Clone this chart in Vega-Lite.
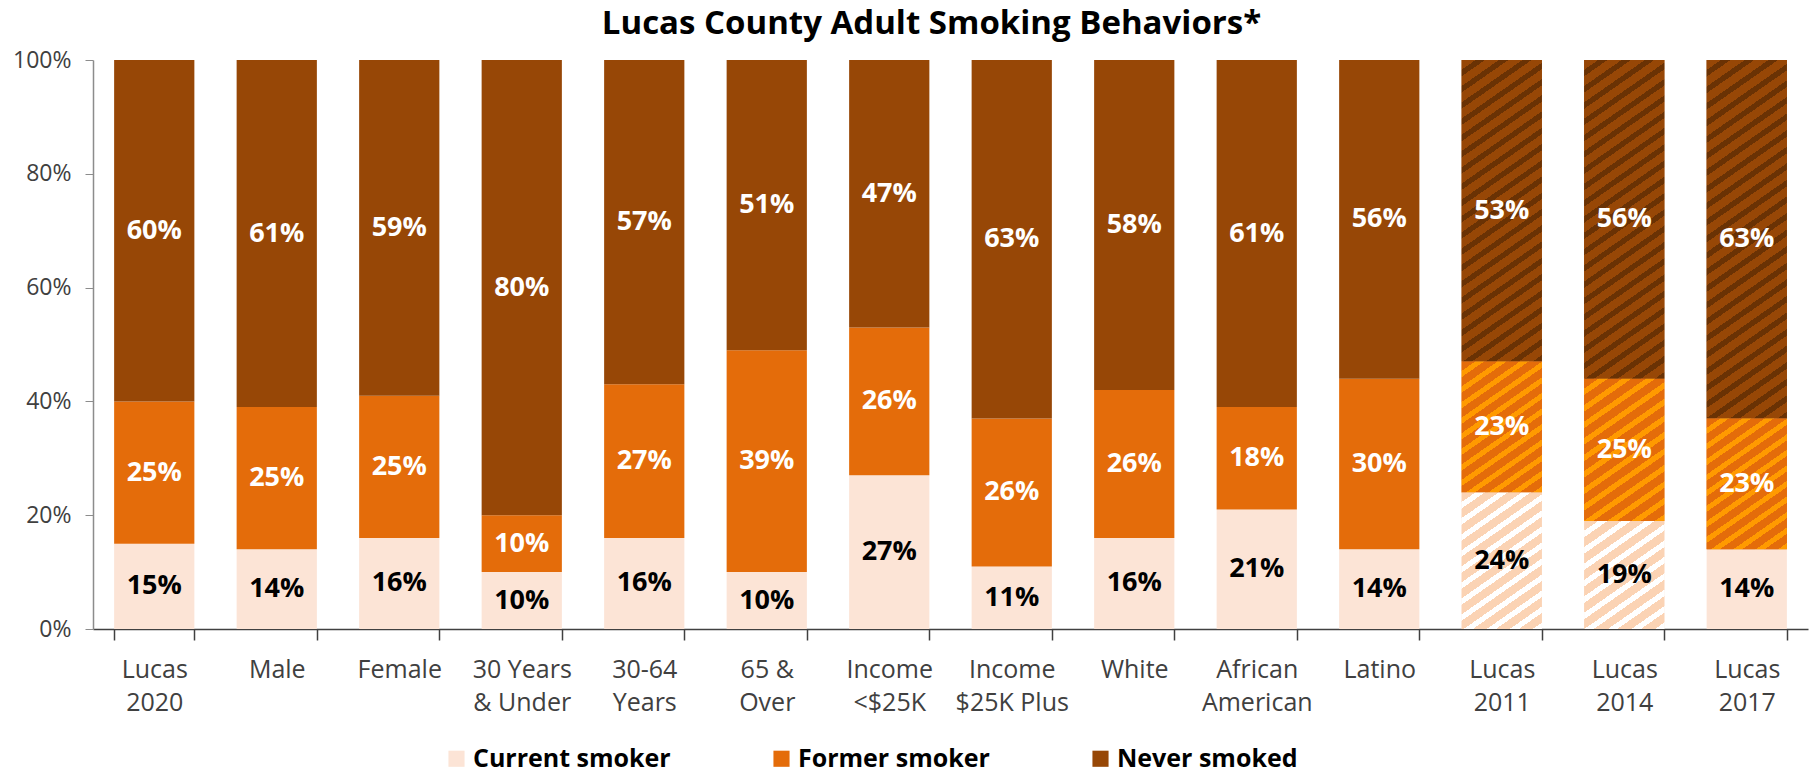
{
"$schema": "https://vega.github.io/schema/vega-lite/v6.json",
"width": 1715, "height": 569,
"autosize": {"type": "none"},
"padding": {"left": 93, "top": 60, "right": 8, "bottom": 144},
"background": "white",
"config": {"view": {"stroke": null}, "font": "Open Sans"},
"title": {"text": "Lucas County Adult Smoking Behaviors*", "fontSize": 33, "fontWeight": "bold", "font": "Open Sans", "color": "#000000", "anchor": "middle", "offset": 8, "dx": -19},
"data": {"values": [
{"group": "Lucas|2020", "behavior": "Current smoker", "pct": 0.15, "order": 1},
{"group": "Lucas|2020", "behavior": "Former smoker", "pct": 0.25, "order": 2},
{"group": "Lucas|2020", "behavior": "Never smoked", "pct": 0.60, "order": 3},
{"group": "Male", "behavior": "Current smoker", "pct": 0.14, "order": 1},
{"group": "Male", "behavior": "Former smoker", "pct": 0.25, "order": 2},
{"group": "Male", "behavior": "Never smoked", "pct": 0.61, "order": 3},
{"group": "Female", "behavior": "Current smoker", "pct": 0.16, "order": 1},
{"group": "Female", "behavior": "Former smoker", "pct": 0.25, "order": 2},
{"group": "Female", "behavior": "Never smoked", "pct": 0.59, "order": 3},
{"group": "30 Years|& Under", "behavior": "Current smoker", "pct": 0.10, "order": 1},
{"group": "30 Years|& Under", "behavior": "Former smoker", "pct": 0.10, "order": 2},
{"group": "30 Years|& Under", "behavior": "Never smoked", "pct": 0.80, "order": 3},
{"group": "30-64|Years", "behavior": "Current smoker", "pct": 0.16, "order": 1},
{"group": "30-64|Years", "behavior": "Former smoker", "pct": 0.27, "order": 2},
{"group": "30-64|Years", "behavior": "Never smoked", "pct": 0.57, "order": 3},
{"group": "65 &|Over", "behavior": "Current smoker", "pct": 0.10, "order": 1},
{"group": "65 &|Over", "behavior": "Former smoker", "pct": 0.39, "order": 2},
{"group": "65 &|Over", "behavior": "Never smoked", "pct": 0.51, "order": 3},
{"group": "Income|<$25K", "behavior": "Current smoker", "pct": 0.27, "order": 1},
{"group": "Income|<$25K", "behavior": "Former smoker", "pct": 0.26, "order": 2},
{"group": "Income|<$25K", "behavior": "Never smoked", "pct": 0.47, "order": 3},
{"group": "Income|$25K Plus", "behavior": "Current smoker", "pct": 0.11, "order": 1},
{"group": "Income|$25K Plus", "behavior": "Former smoker", "pct": 0.26, "order": 2},
{"group": "Income|$25K Plus", "behavior": "Never smoked", "pct": 0.63, "order": 3},
{"group": "White", "behavior": "Current smoker", "pct": 0.16, "order": 1},
{"group": "White", "behavior": "Former smoker", "pct": 0.26, "order": 2},
{"group": "White", "behavior": "Never smoked", "pct": 0.58, "order": 3},
{"group": "African|American", "behavior": "Current smoker", "pct": 0.21, "order": 1},
{"group": "African|American", "behavior": "Former smoker", "pct": 0.18, "order": 2},
{"group": "African|American", "behavior": "Never smoked", "pct": 0.61, "order": 3},
{"group": "Latino", "behavior": "Current smoker", "pct": 0.14, "order": 1},
{"group": "Latino", "behavior": "Former smoker", "pct": 0.30, "order": 2},
{"group": "Latino", "behavior": "Never smoked", "pct": 0.56, "order": 3},
{"group": "Lucas|2011", "behavior": "Current smoker", "pct": 0.24, "order": 1},
{"group": "Lucas|2011", "behavior": "Former smoker", "pct": 0.23, "order": 2},
{"group": "Lucas|2011", "behavior": "Never smoked", "pct": 0.53, "order": 3},
{"group": "Lucas|2014", "behavior": "Current smoker", "pct": 0.19, "order": 1},
{"group": "Lucas|2014", "behavior": "Former smoker", "pct": 0.25, "order": 2},
{"group": "Lucas|2014", "behavior": "Never smoked", "pct": 0.56, "order": 3},
{"group": "Lucas|2017", "behavior": "Current smoker", "pct": 0.14, "order": 1},
{"group": "Lucas|2017", "behavior": "Former smoker", "pct": 0.23, "order": 2},
{"group": "Lucas|2017", "behavior": "Never smoked", "pct": 0.63, "order": 3}
]},
"transform": [
{"stack": "pct", "groupby": ["group"], "sort": [{"field": "order", "order": "ascending"}], "as": ["lo", "hi"]},
{"calculate": "(datum.lo + datum.hi) / 2", "as": "mid"}
],
"encoding": {
"x": {"field": "group", "type": "nominal",
 "scale": {"domain": ["Lucas|2020","Male","Female","30 Years|& Under","30-64|Years","65 &|Over","Income|<$25K","Income|$25K Plus","White","African|American","Latino","Lucas|2011","Lucas|2014","Lucas|2017"], "paddingInner": 0.345, "paddingOuter": 0.1725},
 "axis": {"title": null, "labelAngle": 0, "labelExpr": "isValid(datum.value) ? split(datum.value, '|') : ''", "labelFont": "Open Sans", "labelFontSize": 25, "labelColor": "#404040", "labelLineHeight": 33, "labelPadding": 17, "tickBand": "extent", "tickSize": 11, "tickColor": "#404040", "domainColor": "#404040", "domainWidth": 1.5, "tickWidth": 1.5, "labelLimit": 300}}
},
"layer": [
{"encoding": {
  "y": {"field": "lo", "type": "quantitative", "scale": {"domain": [0, 1], "nice": false}, "axis": {"title": null, "format": ".0%", "values": [0, 0.2, 0.4, 0.6, 0.8, 1], "grid": false, "labelFont": "Open Sans", "labelFontSize": 23, "labelColor": "#404040", "domainColor": "#8C8C8C", "domainWidth": 1.5, "tickColor": "#8C8C8C", "tickSize": 8, "labelPadding": 14}},
  "y2": {"field": "hi"}},
 "layer": [
  {"mark": {"type": "bar"},
   "encoding": {"color": {"field": "behavior", "type": "nominal",
     "scale": {"domain": ["Current smoker", "Former smoker", "Never smoked"], "range": ["#FCE4D6", "#E46C0A", "#974706"]},
     "legend": {"orient": "none", "legendX": 351, "legendY": 686, "direction": "horizontal", "title": null, "symbolType": "square", "symbolSize": 260, "symbolStrokeWidth": 0, "labelFontSize": 25, "labelFontWeight": "bold", "labelFont": "Open Sans", "labelColor": "#000000", "labelOffset": 4, "columnPadding": 98, "labelLimit": 400}}}},
  {"transform": [{"filter": "datum.group === 'Lucas|2011' && datum.order === 3"}],
   "mark": {"type": "bar", "fill": {"gradient": "linear", "x1": 0, "y1": 0, "x2": 0.2124, "y2": 1.146, "stops": [
{"offset":0,"color":"#974706"},{"offset":0.0273,"color":"#974706"},{"offset":0.0273,"color":"#6A3204"},{"offset":0.0455,"color":"#6A3204"},
{"offset":0.0455,"color":"#974706"},{"offset":0.0727,"color":"#974706"},{"offset":0.0727,"color":"#6A3204"},{"offset":0.0909,"color":"#6A3204"},
{"offset":0.0909,"color":"#974706"},{"offset":0.1182,"color":"#974706"},{"offset":0.1182,"color":"#6A3204"},{"offset":0.1364,"color":"#6A3204"},
{"offset":0.1364,"color":"#974706"},{"offset":0.1636,"color":"#974706"},{"offset":0.1636,"color":"#6A3204"},{"offset":0.1818,"color":"#6A3204"},
{"offset":0.1818,"color":"#974706"},{"offset":0.2091,"color":"#974706"},{"offset":0.2091,"color":"#6A3204"},{"offset":0.2273,"color":"#6A3204"},
{"offset":0.2273,"color":"#974706"},{"offset":0.2545,"color":"#974706"},{"offset":0.2545,"color":"#6A3204"},{"offset":0.2727,"color":"#6A3204"},
{"offset":0.2727,"color":"#974706"},{"offset":0.3,"color":"#974706"},{"offset":0.3,"color":"#6A3204"},{"offset":0.3182,"color":"#6A3204"},
{"offset":0.3182,"color":"#974706"},{"offset":0.3455,"color":"#974706"},{"offset":0.3455,"color":"#6A3204"},{"offset":0.3636,"color":"#6A3204"},
{"offset":0.3636,"color":"#974706"},{"offset":0.3909,"color":"#974706"},{"offset":0.3909,"color":"#6A3204"},{"offset":0.4091,"color":"#6A3204"},
{"offset":0.4091,"color":"#974706"},{"offset":0.4364,"color":"#974706"},{"offset":0.4364,"color":"#6A3204"},{"offset":0.4545,"color":"#6A3204"},
{"offset":0.4545,"color":"#974706"},{"offset":0.4818,"color":"#974706"},{"offset":0.4818,"color":"#6A3204"},{"offset":0.5,"color":"#6A3204"},
{"offset":0.5,"color":"#974706"},{"offset":0.5273,"color":"#974706"},{"offset":0.5273,"color":"#6A3204"},{"offset":0.5455,"color":"#6A3204"},
{"offset":0.5455,"color":"#974706"},{"offset":0.5727,"color":"#974706"},{"offset":0.5727,"color":"#6A3204"},{"offset":0.5909,"color":"#6A3204"},
{"offset":0.5909,"color":"#974706"},{"offset":0.6182,"color":"#974706"},{"offset":0.6182,"color":"#6A3204"},{"offset":0.6364,"color":"#6A3204"},
{"offset":0.6364,"color":"#974706"},{"offset":0.6636,"color":"#974706"},{"offset":0.6636,"color":"#6A3204"},{"offset":0.6818,"color":"#6A3204"},
{"offset":0.6818,"color":"#974706"},{"offset":0.7091,"color":"#974706"},{"offset":0.7091,"color":"#6A3204"},{"offset":0.7273,"color":"#6A3204"},
{"offset":0.7273,"color":"#974706"},{"offset":0.7545,"color":"#974706"},{"offset":0.7545,"color":"#6A3204"},{"offset":0.7727,"color":"#6A3204"},
{"offset":0.7727,"color":"#974706"},{"offset":0.8,"color":"#974706"},{"offset":0.8,"color":"#6A3204"},{"offset":0.8182,"color":"#6A3204"},
{"offset":0.8182,"color":"#974706"},{"offset":0.8455,"color":"#974706"},{"offset":0.8455,"color":"#6A3204"},{"offset":0.8636,"color":"#6A3204"},
{"offset":0.8636,"color":"#974706"},{"offset":0.8909,"color":"#974706"},{"offset":0.8909,"color":"#6A3204"},{"offset":0.9091,"color":"#6A3204"},
{"offset":0.9091,"color":"#974706"},{"offset":0.9364,"color":"#974706"},{"offset":0.9364,"color":"#6A3204"},{"offset":0.9545,"color":"#6A3204"},
{"offset":0.9545,"color":"#974706"},{"offset":0.9818,"color":"#974706"},{"offset":0.9818,"color":"#6A3204"},{"offset":1,"color":"#6A3204"}
]}}},
  {"transform": [{"filter": "datum.group === 'Lucas|2011' && datum.order === 2"}],
   "mark": {"type": "bar", "fill": {"gradient": "linear", "x1": 0, "y1": 0, "x2": 0.5155, "y2": 1.2069, "stops": [
{"offset":0,"color":"#E46C0A"},{"offset":0.05,"color":"#E46C0A"},{"offset":0.05,"color":"#FF9A00"},{"offset":0.0833,"color":"#FF9A00"},
{"offset":0.0833,"color":"#E46C0A"},{"offset":0.1333,"color":"#E46C0A"},{"offset":0.1333,"color":"#FF9A00"},{"offset":0.1667,"color":"#FF9A00"},
{"offset":0.1667,"color":"#E46C0A"},{"offset":0.2167,"color":"#E46C0A"},{"offset":0.2167,"color":"#FF9A00"},{"offset":0.25,"color":"#FF9A00"},
{"offset":0.25,"color":"#E46C0A"},{"offset":0.3,"color":"#E46C0A"},{"offset":0.3,"color":"#FF9A00"},{"offset":0.3333,"color":"#FF9A00"},
{"offset":0.3333,"color":"#E46C0A"},{"offset":0.3833,"color":"#E46C0A"},{"offset":0.3833,"color":"#FF9A00"},{"offset":0.4167,"color":"#FF9A00"},
{"offset":0.4167,"color":"#E46C0A"},{"offset":0.4667,"color":"#E46C0A"},{"offset":0.4667,"color":"#FF9A00"},{"offset":0.5,"color":"#FF9A00"},
{"offset":0.5,"color":"#E46C0A"},{"offset":0.55,"color":"#E46C0A"},{"offset":0.55,"color":"#FF9A00"},{"offset":0.5833,"color":"#FF9A00"},
{"offset":0.5833,"color":"#E46C0A"},{"offset":0.6333,"color":"#E46C0A"},{"offset":0.6333,"color":"#FF9A00"},{"offset":0.6667,"color":"#FF9A00"},
{"offset":0.6667,"color":"#E46C0A"},{"offset":0.7167,"color":"#E46C0A"},{"offset":0.7167,"color":"#FF9A00"},{"offset":0.75,"color":"#FF9A00"},
{"offset":0.75,"color":"#E46C0A"},{"offset":0.8,"color":"#E46C0A"},{"offset":0.8,"color":"#FF9A00"},{"offset":0.8333,"color":"#FF9A00"},
{"offset":0.8333,"color":"#E46C0A"},{"offset":0.8833,"color":"#E46C0A"},{"offset":0.8833,"color":"#FF9A00"},{"offset":0.9167,"color":"#FF9A00"},
{"offset":0.9167,"color":"#E46C0A"},{"offset":0.9667,"color":"#E46C0A"},{"offset":0.9667,"color":"#FF9A00"},{"offset":1,"color":"#FF9A00"}
]}}},
  {"transform": [{"filter": "datum.group === 'Lucas|2011' && datum.order === 1"}],
   "mark": {"type": "bar", "fill": {"gradient": "linear", "x1": 0, "y1": 0, "x2": 0.4941, "y2": 1.2071, "stops": [
{"offset":0,"color":"#FBD3B4"},{"offset":0.05,"color":"#FBD3B4"},{"offset":0.05,"color":"#FFFFFF"},{"offset":0.0833,"color":"#FFFFFF"},
{"offset":0.0833,"color":"#FBD3B4"},{"offset":0.1333,"color":"#FBD3B4"},{"offset":0.1333,"color":"#FFFFFF"},{"offset":0.1667,"color":"#FFFFFF"},
{"offset":0.1667,"color":"#FBD3B4"},{"offset":0.2167,"color":"#FBD3B4"},{"offset":0.2167,"color":"#FFFFFF"},{"offset":0.25,"color":"#FFFFFF"},
{"offset":0.25,"color":"#FBD3B4"},{"offset":0.3,"color":"#FBD3B4"},{"offset":0.3,"color":"#FFFFFF"},{"offset":0.3333,"color":"#FFFFFF"},
{"offset":0.3333,"color":"#FBD3B4"},{"offset":0.3833,"color":"#FBD3B4"},{"offset":0.3833,"color":"#FFFFFF"},{"offset":0.4167,"color":"#FFFFFF"},
{"offset":0.4167,"color":"#FBD3B4"},{"offset":0.4667,"color":"#FBD3B4"},{"offset":0.4667,"color":"#FFFFFF"},{"offset":0.5,"color":"#FFFFFF"},
{"offset":0.5,"color":"#FBD3B4"},{"offset":0.55,"color":"#FBD3B4"},{"offset":0.55,"color":"#FFFFFF"},{"offset":0.5833,"color":"#FFFFFF"},
{"offset":0.5833,"color":"#FBD3B4"},{"offset":0.6333,"color":"#FBD3B4"},{"offset":0.6333,"color":"#FFFFFF"},{"offset":0.6667,"color":"#FFFFFF"},
{"offset":0.6667,"color":"#FBD3B4"},{"offset":0.7167,"color":"#FBD3B4"},{"offset":0.7167,"color":"#FFFFFF"},{"offset":0.75,"color":"#FFFFFF"},
{"offset":0.75,"color":"#FBD3B4"},{"offset":0.8,"color":"#FBD3B4"},{"offset":0.8,"color":"#FFFFFF"},{"offset":0.8333,"color":"#FFFFFF"},
{"offset":0.8333,"color":"#FBD3B4"},{"offset":0.8833,"color":"#FBD3B4"},{"offset":0.8833,"color":"#FFFFFF"},{"offset":0.9167,"color":"#FFFFFF"},
{"offset":0.9167,"color":"#FBD3B4"},{"offset":0.9667,"color":"#FBD3B4"},{"offset":0.9667,"color":"#FFFFFF"},{"offset":1,"color":"#FFFFFF"}
]}}},
  {"transform": [{"filter": "datum.group === 'Lucas|2014' && datum.order === 3"}],
   "mark": {"type": "bar", "fill": {"gradient": "linear", "x1": 0, "y1": 0, "x2": 0.2001, "y2": 1.1403, "stops": [
{"offset":0,"color":"#974706"},{"offset":0.0261,"color":"#974706"},{"offset":0.0261,"color":"#6A3204"},{"offset":0.0435,"color":"#6A3204"},
{"offset":0.0435,"color":"#974706"},{"offset":0.0696,"color":"#974706"},{"offset":0.0696,"color":"#6A3204"},{"offset":0.087,"color":"#6A3204"},
{"offset":0.087,"color":"#974706"},{"offset":0.113,"color":"#974706"},{"offset":0.113,"color":"#6A3204"},{"offset":0.1304,"color":"#6A3204"},
{"offset":0.1304,"color":"#974706"},{"offset":0.1565,"color":"#974706"},{"offset":0.1565,"color":"#6A3204"},{"offset":0.1739,"color":"#6A3204"},
{"offset":0.1739,"color":"#974706"},{"offset":0.2,"color":"#974706"},{"offset":0.2,"color":"#6A3204"},{"offset":0.2174,"color":"#6A3204"},
{"offset":0.2174,"color":"#974706"},{"offset":0.2435,"color":"#974706"},{"offset":0.2435,"color":"#6A3204"},{"offset":0.2609,"color":"#6A3204"},
{"offset":0.2609,"color":"#974706"},{"offset":0.287,"color":"#974706"},{"offset":0.287,"color":"#6A3204"},{"offset":0.3043,"color":"#6A3204"},
{"offset":0.3043,"color":"#974706"},{"offset":0.3304,"color":"#974706"},{"offset":0.3304,"color":"#6A3204"},{"offset":0.3478,"color":"#6A3204"},
{"offset":0.3478,"color":"#974706"},{"offset":0.3739,"color":"#974706"},{"offset":0.3739,"color":"#6A3204"},{"offset":0.3913,"color":"#6A3204"},
{"offset":0.3913,"color":"#974706"},{"offset":0.4174,"color":"#974706"},{"offset":0.4174,"color":"#6A3204"},{"offset":0.4348,"color":"#6A3204"},
{"offset":0.4348,"color":"#974706"},{"offset":0.4609,"color":"#974706"},{"offset":0.4609,"color":"#6A3204"},{"offset":0.4783,"color":"#6A3204"},
{"offset":0.4783,"color":"#974706"},{"offset":0.5043,"color":"#974706"},{"offset":0.5043,"color":"#6A3204"},{"offset":0.5217,"color":"#6A3204"},
{"offset":0.5217,"color":"#974706"},{"offset":0.5478,"color":"#974706"},{"offset":0.5478,"color":"#6A3204"},{"offset":0.5652,"color":"#6A3204"},
{"offset":0.5652,"color":"#974706"},{"offset":0.5913,"color":"#974706"},{"offset":0.5913,"color":"#6A3204"},{"offset":0.6087,"color":"#6A3204"},
{"offset":0.6087,"color":"#974706"},{"offset":0.6348,"color":"#974706"},{"offset":0.6348,"color":"#6A3204"},{"offset":0.6522,"color":"#6A3204"},
{"offset":0.6522,"color":"#974706"},{"offset":0.6783,"color":"#974706"},{"offset":0.6783,"color":"#6A3204"},{"offset":0.6957,"color":"#6A3204"},
{"offset":0.6957,"color":"#974706"},{"offset":0.7217,"color":"#974706"},{"offset":0.7217,"color":"#6A3204"},{"offset":0.7391,"color":"#6A3204"},
{"offset":0.7391,"color":"#974706"},{"offset":0.7652,"color":"#974706"},{"offset":0.7652,"color":"#6A3204"},{"offset":0.7826,"color":"#6A3204"},
{"offset":0.7826,"color":"#974706"},{"offset":0.8087,"color":"#974706"},{"offset":0.8087,"color":"#6A3204"},{"offset":0.8261,"color":"#6A3204"},
{"offset":0.8261,"color":"#974706"},{"offset":0.8522,"color":"#974706"},{"offset":0.8522,"color":"#6A3204"},{"offset":0.8696,"color":"#6A3204"},
{"offset":0.8696,"color":"#974706"},{"offset":0.8957,"color":"#974706"},{"offset":0.8957,"color":"#6A3204"},{"offset":0.913,"color":"#6A3204"},
{"offset":0.913,"color":"#974706"},{"offset":0.9391,"color":"#974706"},{"offset":0.9391,"color":"#6A3204"},{"offset":0.9565,"color":"#6A3204"},
{"offset":0.9565,"color":"#974706"},{"offset":0.9826,"color":"#974706"},{"offset":0.9826,"color":"#6A3204"},{"offset":1,"color":"#6A3204"}
]}}},
  {"transform": [{"filter": "datum.group === 'Lucas|2014' && datum.order === 2"}],
   "mark": {"type": "bar", "fill": {"gradient": "linear", "x1": 0, "y1": 0, "x2": 0.4742, "y2": 1.2066, "stops": [
{"offset":0,"color":"#E46C0A"},{"offset":0.05,"color":"#E46C0A"},{"offset":0.05,"color":"#FF9A00"},{"offset":0.0833,"color":"#FF9A00"},
{"offset":0.0833,"color":"#E46C0A"},{"offset":0.1333,"color":"#E46C0A"},{"offset":0.1333,"color":"#FF9A00"},{"offset":0.1667,"color":"#FF9A00"},
{"offset":0.1667,"color":"#E46C0A"},{"offset":0.2167,"color":"#E46C0A"},{"offset":0.2167,"color":"#FF9A00"},{"offset":0.25,"color":"#FF9A00"},
{"offset":0.25,"color":"#E46C0A"},{"offset":0.3,"color":"#E46C0A"},{"offset":0.3,"color":"#FF9A00"},{"offset":0.3333,"color":"#FF9A00"},
{"offset":0.3333,"color":"#E46C0A"},{"offset":0.3833,"color":"#E46C0A"},{"offset":0.3833,"color":"#FF9A00"},{"offset":0.4167,"color":"#FF9A00"},
{"offset":0.4167,"color":"#E46C0A"},{"offset":0.4667,"color":"#E46C0A"},{"offset":0.4667,"color":"#FF9A00"},{"offset":0.5,"color":"#FF9A00"},
{"offset":0.5,"color":"#E46C0A"},{"offset":0.55,"color":"#E46C0A"},{"offset":0.55,"color":"#FF9A00"},{"offset":0.5833,"color":"#FF9A00"},
{"offset":0.5833,"color":"#E46C0A"},{"offset":0.6333,"color":"#E46C0A"},{"offset":0.6333,"color":"#FF9A00"},{"offset":0.6667,"color":"#FF9A00"},
{"offset":0.6667,"color":"#E46C0A"},{"offset":0.7167,"color":"#E46C0A"},{"offset":0.7167,"color":"#FF9A00"},{"offset":0.75,"color":"#FF9A00"},
{"offset":0.75,"color":"#E46C0A"},{"offset":0.8,"color":"#E46C0A"},{"offset":0.8,"color":"#FF9A00"},{"offset":0.8333,"color":"#FF9A00"},
{"offset":0.8333,"color":"#E46C0A"},{"offset":0.8833,"color":"#E46C0A"},{"offset":0.8833,"color":"#FF9A00"},{"offset":0.9167,"color":"#FF9A00"},
{"offset":0.9167,"color":"#E46C0A"},{"offset":0.9667,"color":"#E46C0A"},{"offset":0.9667,"color":"#FF9A00"},{"offset":1,"color":"#FF9A00"}
]}}},
  {"transform": [{"filter": "datum.group === 'Lucas|2014' && datum.order === 1"}],
   "mark": {"type": "bar", "fill": {"gradient": "linear", "x1": 0, "y1": 0, "x2": 0.619, "y2": 1.197, "stops": [
{"offset":0,"color":"#FBD3B4"},{"offset":0.06,"color":"#FBD3B4"},{"offset":0.06,"color":"#FFFFFF"},{"offset":0.1,"color":"#FFFFFF"},
{"offset":0.1,"color":"#FBD3B4"},{"offset":0.16,"color":"#FBD3B4"},{"offset":0.16,"color":"#FFFFFF"},{"offset":0.2,"color":"#FFFFFF"},
{"offset":0.2,"color":"#FBD3B4"},{"offset":0.26,"color":"#FBD3B4"},{"offset":0.26,"color":"#FFFFFF"},{"offset":0.3,"color":"#FFFFFF"},
{"offset":0.3,"color":"#FBD3B4"},{"offset":0.36,"color":"#FBD3B4"},{"offset":0.36,"color":"#FFFFFF"},{"offset":0.4,"color":"#FFFFFF"},
{"offset":0.4,"color":"#FBD3B4"},{"offset":0.46,"color":"#FBD3B4"},{"offset":0.46,"color":"#FFFFFF"},{"offset":0.5,"color":"#FFFFFF"},
{"offset":0.5,"color":"#FBD3B4"},{"offset":0.56,"color":"#FBD3B4"},{"offset":0.56,"color":"#FFFFFF"},{"offset":0.6,"color":"#FFFFFF"},
{"offset":0.6,"color":"#FBD3B4"},{"offset":0.66,"color":"#FBD3B4"},{"offset":0.66,"color":"#FFFFFF"},{"offset":0.7,"color":"#FFFFFF"},
{"offset":0.7,"color":"#FBD3B4"},{"offset":0.76,"color":"#FBD3B4"},{"offset":0.76,"color":"#FFFFFF"},{"offset":0.8,"color":"#FFFFFF"},
{"offset":0.8,"color":"#FBD3B4"},{"offset":0.86,"color":"#FBD3B4"},{"offset":0.86,"color":"#FFFFFF"},{"offset":0.9,"color":"#FFFFFF"},
{"offset":0.9,"color":"#FBD3B4"},{"offset":0.96,"color":"#FBD3B4"},{"offset":0.96,"color":"#FFFFFF"},{"offset":1,"color":"#FFFFFF"}
]}}},
  {"transform": [{"filter": "datum.group === 'Lucas|2017' && datum.order === 3"}],
   "mark": {"type": "bar", "fill": {"gradient": "linear", "x1": 0, "y1": 0, "x2": 0.176, "y2": 1.1285, "stops": [
{"offset":0,"color":"#974706"},{"offset":0.024,"color":"#974706"},{"offset":0.024,"color":"#6A3204"},{"offset":0.04,"color":"#6A3204"},
{"offset":0.04,"color":"#974706"},{"offset":0.064,"color":"#974706"},{"offset":0.064,"color":"#6A3204"},{"offset":0.08,"color":"#6A3204"},
{"offset":0.08,"color":"#974706"},{"offset":0.104,"color":"#974706"},{"offset":0.104,"color":"#6A3204"},{"offset":0.12,"color":"#6A3204"},
{"offset":0.12,"color":"#974706"},{"offset":0.144,"color":"#974706"},{"offset":0.144,"color":"#6A3204"},{"offset":0.16,"color":"#6A3204"},
{"offset":0.16,"color":"#974706"},{"offset":0.184,"color":"#974706"},{"offset":0.184,"color":"#6A3204"},{"offset":0.2,"color":"#6A3204"},
{"offset":0.2,"color":"#974706"},{"offset":0.224,"color":"#974706"},{"offset":0.224,"color":"#6A3204"},{"offset":0.24,"color":"#6A3204"},
{"offset":0.24,"color":"#974706"},{"offset":0.264,"color":"#974706"},{"offset":0.264,"color":"#6A3204"},{"offset":0.28,"color":"#6A3204"},
{"offset":0.28,"color":"#974706"},{"offset":0.304,"color":"#974706"},{"offset":0.304,"color":"#6A3204"},{"offset":0.32,"color":"#6A3204"},
{"offset":0.32,"color":"#974706"},{"offset":0.344,"color":"#974706"},{"offset":0.344,"color":"#6A3204"},{"offset":0.36,"color":"#6A3204"},
{"offset":0.36,"color":"#974706"},{"offset":0.384,"color":"#974706"},{"offset":0.384,"color":"#6A3204"},{"offset":0.4,"color":"#6A3204"},
{"offset":0.4,"color":"#974706"},{"offset":0.424,"color":"#974706"},{"offset":0.424,"color":"#6A3204"},{"offset":0.44,"color":"#6A3204"},
{"offset":0.44,"color":"#974706"},{"offset":0.464,"color":"#974706"},{"offset":0.464,"color":"#6A3204"},{"offset":0.48,"color":"#6A3204"},
{"offset":0.48,"color":"#974706"},{"offset":0.504,"color":"#974706"},{"offset":0.504,"color":"#6A3204"},{"offset":0.52,"color":"#6A3204"},
{"offset":0.52,"color":"#974706"},{"offset":0.544,"color":"#974706"},{"offset":0.544,"color":"#6A3204"},{"offset":0.56,"color":"#6A3204"},
{"offset":0.56,"color":"#974706"},{"offset":0.584,"color":"#974706"},{"offset":0.584,"color":"#6A3204"},{"offset":0.6,"color":"#6A3204"},
{"offset":0.6,"color":"#974706"},{"offset":0.624,"color":"#974706"},{"offset":0.624,"color":"#6A3204"},{"offset":0.64,"color":"#6A3204"},
{"offset":0.64,"color":"#974706"},{"offset":0.664,"color":"#974706"},{"offset":0.664,"color":"#6A3204"},{"offset":0.68,"color":"#6A3204"},
{"offset":0.68,"color":"#974706"},{"offset":0.704,"color":"#974706"},{"offset":0.704,"color":"#6A3204"},{"offset":0.72,"color":"#6A3204"},
{"offset":0.72,"color":"#974706"},{"offset":0.744,"color":"#974706"},{"offset":0.744,"color":"#6A3204"},{"offset":0.76,"color":"#6A3204"},
{"offset":0.76,"color":"#974706"},{"offset":0.784,"color":"#974706"},{"offset":0.784,"color":"#6A3204"},{"offset":0.8,"color":"#6A3204"},
{"offset":0.8,"color":"#974706"},{"offset":0.824,"color":"#974706"},{"offset":0.824,"color":"#6A3204"},{"offset":0.84,"color":"#6A3204"},
{"offset":0.84,"color":"#974706"},{"offset":0.864,"color":"#974706"},{"offset":0.864,"color":"#6A3204"},{"offset":0.88,"color":"#6A3204"},
{"offset":0.88,"color":"#974706"},{"offset":0.904,"color":"#974706"},{"offset":0.904,"color":"#6A3204"},{"offset":0.92,"color":"#6A3204"},
{"offset":0.92,"color":"#974706"},{"offset":0.944,"color":"#974706"},{"offset":0.944,"color":"#6A3204"},{"offset":0.96,"color":"#6A3204"},
{"offset":0.96,"color":"#974706"},{"offset":0.984,"color":"#974706"},{"offset":0.984,"color":"#6A3204"},{"offset":1,"color":"#6A3204"}
]}}},
  {"transform": [{"filter": "datum.group === 'Lucas|2017' && datum.order === 2"}],
   "mark": {"type": "bar", "fill": {"gradient": "linear", "x1": 0, "y1": 0, "x2": 0.5155, "y2": 1.2069, "stops": [
{"offset":0,"color":"#E46C0A"},{"offset":0.05,"color":"#E46C0A"},{"offset":0.05,"color":"#FF9A00"},{"offset":0.0833,"color":"#FF9A00"},
{"offset":0.0833,"color":"#E46C0A"},{"offset":0.1333,"color":"#E46C0A"},{"offset":0.1333,"color":"#FF9A00"},{"offset":0.1667,"color":"#FF9A00"},
{"offset":0.1667,"color":"#E46C0A"},{"offset":0.2167,"color":"#E46C0A"},{"offset":0.2167,"color":"#FF9A00"},{"offset":0.25,"color":"#FF9A00"},
{"offset":0.25,"color":"#E46C0A"},{"offset":0.3,"color":"#E46C0A"},{"offset":0.3,"color":"#FF9A00"},{"offset":0.3333,"color":"#FF9A00"},
{"offset":0.3333,"color":"#E46C0A"},{"offset":0.3833,"color":"#E46C0A"},{"offset":0.3833,"color":"#FF9A00"},{"offset":0.4167,"color":"#FF9A00"},
{"offset":0.4167,"color":"#E46C0A"},{"offset":0.4667,"color":"#E46C0A"},{"offset":0.4667,"color":"#FF9A00"},{"offset":0.5,"color":"#FF9A00"},
{"offset":0.5,"color":"#E46C0A"},{"offset":0.55,"color":"#E46C0A"},{"offset":0.55,"color":"#FF9A00"},{"offset":0.5833,"color":"#FF9A00"},
{"offset":0.5833,"color":"#E46C0A"},{"offset":0.6333,"color":"#E46C0A"},{"offset":0.6333,"color":"#FF9A00"},{"offset":0.6667,"color":"#FF9A00"},
{"offset":0.6667,"color":"#E46C0A"},{"offset":0.7167,"color":"#E46C0A"},{"offset":0.7167,"color":"#FF9A00"},{"offset":0.75,"color":"#FF9A00"},
{"offset":0.75,"color":"#E46C0A"},{"offset":0.8,"color":"#E46C0A"},{"offset":0.8,"color":"#FF9A00"},{"offset":0.8333,"color":"#FF9A00"},
{"offset":0.8333,"color":"#E46C0A"},{"offset":0.8833,"color":"#E46C0A"},{"offset":0.8833,"color":"#FF9A00"},{"offset":0.9167,"color":"#FF9A00"},
{"offset":0.9167,"color":"#E46C0A"},{"offset":0.9667,"color":"#E46C0A"},{"offset":0.9667,"color":"#FF9A00"},{"offset":1,"color":"#FF9A00"}
]}}}
 ]},
{"mark": {"type": "text", "font": "Open Sans", "fontSize": 27, "fontWeight": "bold", "baseline": "middle", "align": "center"},
 "encoding": {
  "y": {"field": "mid", "type": "quantitative", "axis": {"title": null, "format": ".0%", "values": [0, 0.2, 0.4, 0.6, 0.8, 1], "grid": false, "labelFont": "Open Sans", "labelFontSize": 23, "labelColor": "#404040", "domainColor": "#8C8C8C", "domainWidth": 1.5, "tickColor": "#8C8C8C", "tickSize": 8, "labelPadding": 14}},
  "text": {"field": "pct", "type": "quantitative", "format": ".0%"},
  "color": {"condition": {"test": "datum.order === 1", "value": "#000000"}, "value": "#FFFFFF"}}}
]
}
